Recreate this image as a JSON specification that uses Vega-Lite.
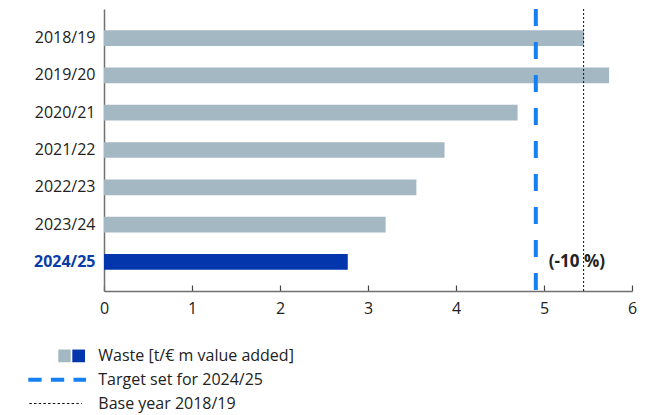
{
  "$schema": "https://vega.github.io/schema/vega-lite/v6.json",
  "padding": {"left": 0, "top": 7, "right": 0, "bottom": 0},
  "background": "white",
  "config": {"view": {"stroke": null}, "font": "Open Sans"},
  "datasets": {
    "waste": [
      {"year": "2018/19", "value": 5.455, "current": "no"},
      {"year": "2019/20", "value": 5.74, "current": "no"},
      {"year": "2020/21", "value": 4.70, "current": "no"},
      {"year": "2021/22", "value": 3.87, "current": "no"},
      {"year": "2022/23", "value": 3.55, "current": "no"},
      {"year": "2023/24", "value": 3.20, "current": "no"},
      {"year": "2024/25", "value": 2.77, "current": "yes"}
    ],
    "refs": [
      {"kind": "target", "value": 4.907, "label": "(-10 %)"},
      {"kind": "base", "value": 5.45, "label": ""}
    ],
    "legend": [
      {"item": "waste", "label": "Waste [t/€ m value added]"},
      {"item": "target", "label": "Target set for 2024/25"},
      {"item": "base", "label": "Base year 2018/19"}
    ]
  },
  "concat": [
    {
      "width": 528,
      "height": 282,
      "layer": [
        {
          "data": {"name": "waste"},
          "mark": {"type": "bar"},
          "encoding": {
            "y": {
              "field": "year", "type": "nominal", "sort": null,
              "scale": {"paddingInner": 0.579, "paddingOuter": 0.567},
              "axis": {
                "title": null, "ticks": false,
                "domainColor": "#707070", "domainWidth": 1.5,
                "labelFontSize": 16, "labelPadding": 9,
                "labelColor": {"condition": {"test": "datum.value === '2024/25'", "value": "#0a3ca8"}, "value": "#222222"},
                "labelFontWeight": {"condition": {"test": "datum.value === '2024/25'", "value": "bold"}, "value": "normal"},
                "minExtent": 104, "maxExtent": 104
              }
            },
            "x": {
              "field": "value", "type": "quantitative",
              "scale": {"domain": [0, 6], "nice": false},
              "axis": {
                "title": null, "values": [0, 1, 2, 3, 4, 5, 6], "format": "d", "grid": false,
                "labelFlush": false,
                "tickSize": -6, "tickColor": "#444444", "tickWidth": 1.2,
                "domainColor": "#707070", "domainWidth": 1.5,
                "labelFontSize": 16, "labelColor": "#222222", "labelPadding": 15
              }
            },
            "color": {
              "field": "current", "type": "nominal",
              "scale": {"domain": ["no", "yes"], "range": ["#a4b8c3", "#0336ad"]},
              "legend": null
            }
          }
        },
        {
          "data": {"name": "refs"},
          "transform": [{"filter": "datum.kind === 'base'"}],
          "mark": {"type": "rule", "color": "#111111", "strokeWidth": 1, "strokeDash": [2, 2]},
          "encoding": {"x": {"field": "value", "type": "quantitative"}}
        },
        {
          "data": {"name": "refs"},
          "transform": [{"filter": "datum.kind === 'target'"}],
          "mark": {"type": "rule", "color": "#1580f2", "strokeWidth": 4, "strokeDash": [17, 16]},
          "encoding": {"x": {"field": "value", "type": "quantitative"}}
        },
        {
          "data": {"name": "refs"},
          "transform": [{"filter": "datum.kind === 'target'"}],
          "mark": {"type": "text", "align": "left", "baseline": "middle", "dx": 13, "fontWeight": "bold", "fontSize": 17, "color": "#222222"},
          "encoding": {
            "x": {"field": "value", "type": "quantitative"},
            "y": {"datum": "2024/25"},
            "text": {"field": "label"}
          }
        }
      ]
    },
    {
      "width": 300,
      "height": 71.4,
      "data": {"name": "legend"},
      "encoding": {
        "y": {
          "field": "item", "type": "nominal", "sort": null,
          "scale": {"domain": ["waste", "target", "base"], "paddingInner": 0, "paddingOuter": 0},
          "axis": null
        }
      },
      "layer": [
        {
          "transform": [{"filter": "datum.item === 'waste'"}],
          "mark": {"type": "bar", "height": 12.7, "color": "#a4b8c3"},
          "encoding": {
            "x": {"datum": 58.3, "type": "quantitative", "scale": {"domain": [104, 404], "nice": false, "zero": false}, "axis": null},
            "x2": {"datum": 70.7}
          }
        },
        {
          "transform": [{"filter": "datum.item === 'waste'"}],
          "mark": {"type": "bar", "height": 12.7, "color": "#0336ad"},
          "encoding": {
            "x": {"datum": 72.3, "type": "quantitative"},
            "x2": {"datum": 85}
          }
        },
        {
          "transform": [{"filter": "datum.item === 'target'"}],
          "mark": {"type": "rule", "color": "#1580f2", "strokeWidth": 4, "strokeDash": [13.3, 9.3]},
          "encoding": {
            "x": {"datum": 28.3, "type": "quantitative"},
            "x2": {"datum": 86}
          }
        },
        {
          "transform": [{"filter": "datum.item === 'base'"}],
          "mark": {"type": "rule", "color": "#111111", "strokeWidth": 1, "strokeDash": [2.5, 2.2]},
          "encoding": {
            "x": {"datum": 29.3, "type": "quantitative"},
            "x2": {"datum": 81.7}
          }
        },
        {
          "mark": {"type": "text", "align": "left", "baseline": "middle", "fontSize": 16, "color": "#222222"},
          "encoding": {
            "x": {"datum": 98.3, "type": "quantitative"},
            "text": {"field": "label"}
          }
        }
      ]
    }
  ],
  "columns": 1,
  "align": "none",
  "spacing": 28
}
